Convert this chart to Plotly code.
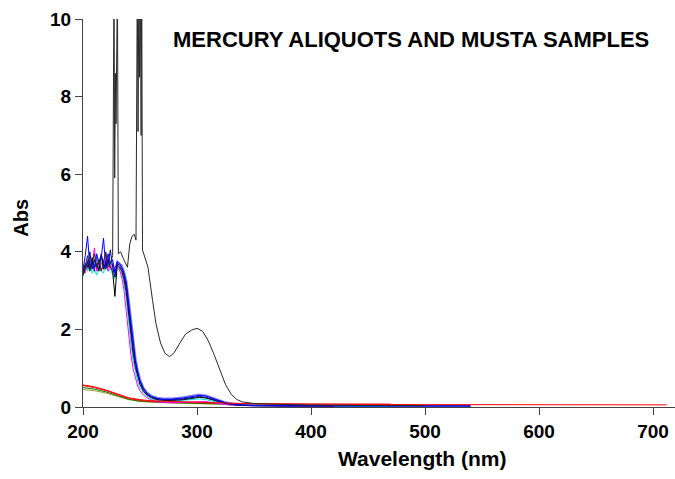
import plotly.graph_objects as go

# ---- data -------------------------------------------------------------
W_G = [200, 202, 204, 206, 208, 210, 212, 214, 216, 218, 220, 222, 224, 226, 228, 230, 232,
       234, 236, 238, 240, 242, 244, 246, 248, 250,
       253, 256, 260, 265, 270, 278, 288, 296, 302, 308, 316, 325, 335, 350, 380, 420, 470, 540]

blue = [3.55, 3.9, 4.4, 3.6, 3.75, 3.5, 3.95, 3.7, 3.85, 4.35, 3.6, 3.95, 3.7, 3.8, 3.45, 3.75, 3.7,
        3.6, 3.45, 3.2, 2.7, 2.15, 1.6, 1.2, 0.9, 0.68,
        0.48, 0.36, 0.27, 0.22, 0.2, 0.2, 0.23, 0.28, 0.3, 0.28, 0.2, 0.11, 0.06, 0.04, 0.03, 0.03, 0.025, 0.025]
navy = [3.45, 3.7, 3.6, 4.0, 3.55, 3.8, 3.6, 3.75, 3.9, 3.55, 3.75, 3.65, 4.05, 3.6, 3.35, 3.7, 3.65,
        3.55, 3.4, 3.1, 2.55, 2.0, 1.5, 1.12, 0.85, 0.64,
        0.45, 0.34, 0.26, 0.21, 0.19, 0.19, 0.21, 0.25, 0.27, 0.25, 0.18, 0.1, 0.05, 0.035, 0.03, 0.03, 0.025, 0.025]
magenta = [3.5, 3.45, 3.8, 3.55, 3.65, 4.1, 3.5, 3.7, 3.55, 3.6, 3.95, 3.5, 3.65, 3.55, 3.6, 3.7, 3.55,
           3.35, 3.0, 2.45, 1.85, 1.35, 0.98, 0.72, 0.54, 0.42,
           0.31, 0.24, 0.18, 0.14, 0.12, 0.11, 0.12, 0.14, 0.15, 0.14, 0.1, 0.06, 0.04, 0.03, 0.025, 0.02, None, None]
cyan = [3.35, 3.6, 3.5, 3.7, 3.45, 3.55, 3.4, 3.6, 3.5, 3.45, 3.7, 3.5, 3.55, 3.4, 3.3, 3.6, 3.5,
        3.45, 3.2, 2.8, 2.2, 1.65, 1.2, 0.88, 0.65, 0.5,
        0.36, 0.28, 0.21, 0.17, 0.15, 0.15, 0.17, 0.2, 0.21, 0.19, 0.13, 0.07, 0.04, 0.03, 0.025, 0.02, 0.02, None]
black = [3.4, 3.55, 3.75, 3.5, 3.85, 3.6, 3.7, 3.5, 3.95, 3.65, 3.55, 3.8, 3.6, 3.5, 2.85, 3.65, 3.6,
         3.5, 3.3, 2.95, 2.4, 1.85, 1.38, 1.02, 0.77, 0.58,
         0.41, 0.31, 0.24, 0.19, 0.17, 0.17, 0.19, 0.23, 0.25, 0.23, 0.16, 0.09, 0.05, 0.035, 0.03, 0.03, None, None]
periwinkle = [3.5, 3.65, 3.55, 3.8, 3.6, 3.7, 3.85, 3.6, 3.7, 3.75, 3.6, 3.85, 3.7, 3.65, 3.5, 3.75, 3.7,
              3.65, 3.5, 3.25, 2.8, 2.25, 1.7, 1.28, 0.96, 0.72,
              0.5, 0.38, 0.29, 0.24, 0.22, 0.22, 0.25, 0.3, 0.32, 0.3, 0.22, 0.12, 0.06, 0.04, 0.03, 0.03, 0.03, 0.03]

W_L = [200, 210, 220, 230, 240, 250, 260, 270, 280, 300, 320, 340, 360, 400, 450, 470, 500, 550, 600, 650, 712]
red1 = [0.57, 0.52, 0.44, 0.33, 0.24, 0.19, 0.16, 0.15, 0.14, 0.13, 0.11, 0.09, 0.08, 0.07, 0.065, 0.065, 0.06, 0.06, 0.055, 0.055, 0.055]
red2 = [0.55, 0.5, 0.42, 0.31, 0.22, 0.17, 0.14, 0.13, 0.12, 0.11, 0.1, 0.09, 0.08, 0.075, 0.075, 0.075, None, None, None, None, None]
green = [0.5, 0.46, 0.39, 0.29, 0.2, 0.15, 0.13, 0.12, 0.11, 0.1, 0.08, 0.06, 0.05, 0.04, None, None, None, None, None, None, None]
olive = [0.45, 0.42, 0.36, 0.27, 0.19, 0.14, 0.12, 0.11, 0.1, 0.09, 0.07, 0.05, 0.04, 0.035, None, None, None, None, None, None, None]

W_K = [200, 202, 204, 206, 208, 210, 212, 214, 216, 218, 220, 222, 224, 226,
       227.2, 227.8, 228.4, 229.0, 229.6, 230.2, 231,
       233, 235, 237, 239, 241, 243, 245, 246.5,
       247.6, 248.3, 249.0, 249.6, 250.3, 251.0, 251.5, 252.2,
       254, 257, 261, 264, 268, 272, 276, 280, 285, 290, 295, 300, 305, 310, 315, 320, 325, 330, 335, 340,
       350, 370, 400, 450, 500]
spike = [3.5, 3.65, 3.9, 3.55, 3.7, 3.95, 3.6, 3.8, 3.5, 3.75, 4.0, 3.6, 3.7, 3.9,
         11, 5.9, 8.6, 7.3, 11, 11, 3.95,
         4.0, 3.85, 3.7, 3.6, 4.2, 4.4, 4.45, 4.3,
         11, 7.1, 11, 8.5, 11, 7.0, 11, 4.05,
         3.9, 3.6, 2.75, 2.15, 1.65, 1.38, 1.3, 1.4, 1.65, 1.88, 1.98, 2.03, 1.95, 1.7, 1.35, 0.95, 0.58, 0.33, 0.19, 0.13,
         0.09, 0.07, 0.05, 0.04, 0.035]

X_TICKS = [200, 300, 400, 500, 600, 700]
Y_TICKS = [0, 2, 4, 6, 8, 10]

for s in (blue, navy, magenta, cyan, black, periwinkle):
    assert len(s) == len(W_G), len(s)
for s in (red1, red2, green, olive):
    assert len(s) == len(W_L), len(s)
assert len(spike) == len(W_K), (len(spike), len(W_K))

# ---- figure -----------------------------------------------------------
fig = go.Figure()

def add(x, y, color, width=1):
    fig.add_trace(go.Scatter(x=x, y=y, mode="lines", line=dict(color=color, width=width),
                             connectgaps=False, showlegend=False, hoverinfo="skip"))

add(W_L, olive, "#a0a030")
add(W_L, green, "#008000")
add(W_L, red2, "#ff0000")
add(W_G, periwinkle, "#8080ff", 2)
add(W_G, cyan, "#00e0e0")
add(W_G, magenta, "#ff00ff")
add(W_G, black, "#000000")
add(W_G, navy, "#000080")
add(W_G, blue, "#0000ff")
add(W_L, red1, "#ff0000")
add(W_K, spike, "#2a2a2a")

FONT = "Liberation Sans, Arial, sans-serif"
tick_font = dict(family=FONT, size=19, color="#000000", weight="bold")

fig.update_layout(
    width=675, height=479,
    margin=dict(l=83, r=0, t=19, b=72),
    paper_bgcolor="white", plot_bgcolor="white",
    xaxis=dict(range=[200, 719.3], tickvals=X_TICKS, ticks="outside", ticklen=7, tickcolor="#444444",
               showline=True, linecolor="#444444", linewidth=1, showgrid=False, zeroline=False,
               tickfont=tick_font),
    yaxis=dict(range=[0, 10], tickvals=Y_TICKS, ticks="outside", ticklen=7, tickcolor="#444444",
               showline=True, linecolor="#444444", linewidth=1, showgrid=False, zeroline=False,
               tickfont=tick_font),
    annotations=[
        dict(text="MERCURY ALIQUOTS AND MUSTA SAMPLES", xref="paper", yref="paper",
             x=0.554, y=0.946, xanchor="center", yanchor="middle", showarrow=False,
             font=dict(family=FONT, size=22, color="#000000", weight="bold")),
        dict(text="Wavelength (nm)", xref="paper", yref="paper",
             x=0.5726, y=-0.1326, xanchor="center", yanchor="middle", showarrow=False,
             font=dict(family=FONT, size=21, color="#000000", weight="bold")),
        dict(text="Abs", xref="paper", yref="paper", textangle=-90,
             x=-0.1047, y=0.488, xanchor="center", yanchor="middle", showarrow=False,
             font=dict(family=FONT, size=20, color="#000000", weight="bold")),
    ],
)

fig.write_html("out.html")
